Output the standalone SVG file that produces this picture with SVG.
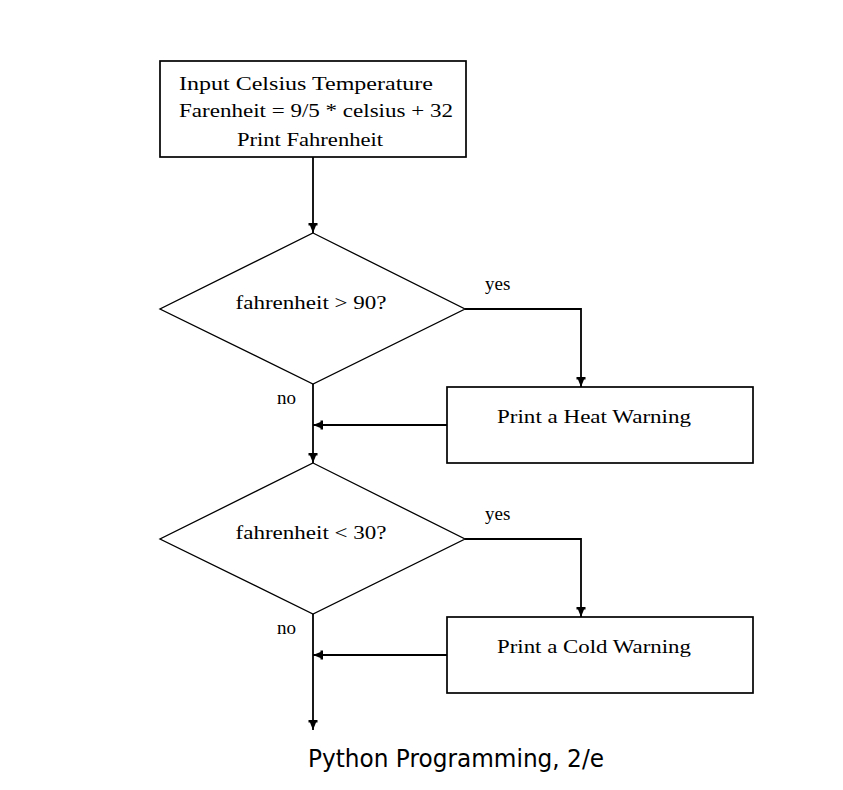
<svg xmlns="http://www.w3.org/2000/svg" width="843" height="790" viewBox="0 0 843 790">
<style>
.box{fill:#fff;stroke:#000;stroke-width:1.7}
.dia{fill:#fff;stroke:#000;stroke-width:1.3}
.t{font-family:"Liberation Serif","Times New Roman",serif;font-size:19px;fill:#000}
.c{text-anchor:middle}
.con{fill:none;stroke:#000;stroke-width:1.8}
.cap{font-family:"DejaVu Sans",Tahoma,sans-serif;font-size:25px;fill:#000;text-anchor:middle}
</style>
<defs>
<marker id="ah" markerUnits="userSpaceOnUse" markerWidth="14" markerHeight="14" refX="10" refY="0" viewBox="-1 -7 12 14" orient="auto" overflow="visible">
<path d="M0,-4.5 L2.5,-4.5 L2.5,-3 L10,0 L2.5,3 L2.5,4.5 L0,4.5 z" fill="#000"/>
</marker>
</defs>
<rect width="843" height="790" fill="#fff"/>
<g id="n-start">
<rect class="box" x="160" y="61" width="306" height="96"/>
<text class="t c" x="306" y="90" textLength="254" lengthAdjust="spacingAndGlyphs">Input Celsius Temperature</text>
<text class="t c" x="316" y="117" textLength="274" lengthAdjust="spacingAndGlyphs">Farenheit = 9/5 * celsius + 32</text>
<text class="t c" x="310" y="146" textLength="146" lengthAdjust="spacingAndGlyphs">Print Fahrenheit</text>
</g>
<g id="n-hot">
<polygon class="dia" points="313,233 465,309 313,384 160,309"/>
<text class="t c" x="311" y="309" textLength="151" lengthAdjust="spacingAndGlyphs">fahrenheit &gt; 90?</text>
</g>
<g id="n-heat">
<rect class="box" x="447" y="387" width="306" height="76"/>
<text class="t c" x="594" y="423" textLength="194" lengthAdjust="spacingAndGlyphs">Print a Heat Warning</text>
</g>
<g id="n-cold-q">
<polygon class="dia" points="313,463 465,539 313,614 160,539"/>
<text class="t c" x="311" y="539" textLength="151" lengthAdjust="spacingAndGlyphs">fahrenheit &lt; 30?</text>
</g>
<g id="n-cold">
<rect class="box" x="447" y="617" width="306" height="76"/>
<text class="t c" x="594" y="653" textLength="194" lengthAdjust="spacingAndGlyphs">Print a Cold Warning</text>
</g>
<g id="connectors">
<path class="con" d="M313,157 V233" marker-end="url(#ah)"/>
<path class="con" d="M465,309 H581 V387" marker-end="url(#ah)"/>
<path class="con" d="M313,384 V463" marker-end="url(#ah)"/>
<path class="con" d="M447,425 H313" marker-end="url(#ah)"/>
<path class="con" d="M465,539 H581 V617" marker-end="url(#ah)"/>
<path class="con" d="M313,614 V730" marker-end="url(#ah)"/>
<path class="con" d="M447,655 H313" marker-end="url(#ah)"/>
<text class="t" x="485" y="290">yes</text>
<text class="t" x="485" y="520">yes</text>
<text class="t" x="277" y="404">no</text>
<text class="t" x="277" y="634">no</text>
</g>
<text class="cap" x="456" y="767" textLength="296" lengthAdjust="spacingAndGlyphs">Python Programming, 2/e</text>
</svg>
